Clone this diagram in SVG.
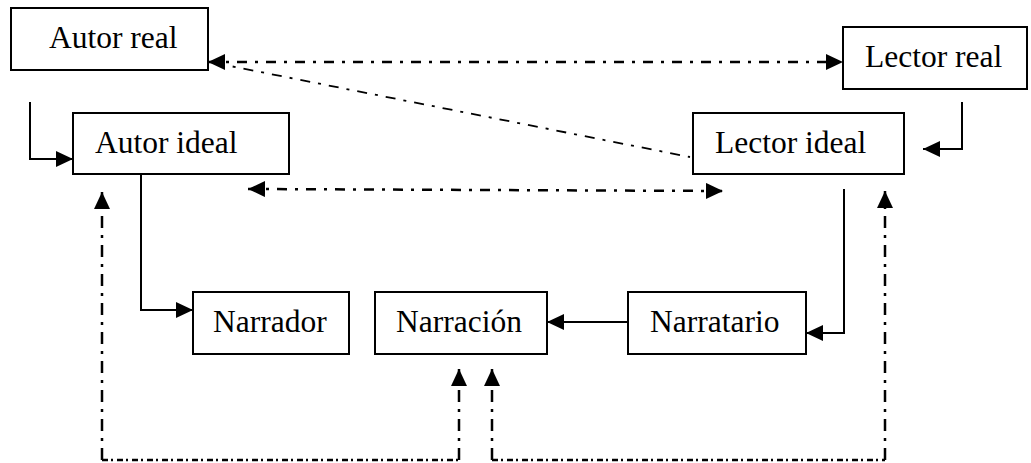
<svg xmlns="http://www.w3.org/2000/svg" width="1031" height="463" viewBox="0 0 1031 463">
<style>
.box{fill:#fff;stroke:#000;stroke-width:2}
.lbl{font-family:"Liberation Serif","Times New Roman",serif;font-size:31.5px;fill:#000}
.solid{fill:none;stroke:#000;stroke-width:2}
.dd{fill:none;stroke:#000;stroke-width:2.5;stroke-dasharray:10 8 3 8}
.dv{fill:none;stroke:#000;stroke-width:2.5;stroke-dasharray:12 7 3 7}
.db{fill:none;stroke:#000;stroke-width:2.5;stroke-dasharray:6 3 2 4}
.diag{fill:none;stroke:#000;stroke-width:1.8;stroke-dasharray:10 8 3 8}
</style>
<defs>
<marker id="ah" markerUnits="userSpaceOnUse" markerWidth="20" markerHeight="18" viewBox="0 0 20 18" refX="17" refY="8" orient="auto-start-reverse">
<path d="M0,0 L17,8 L0,16 z" fill="#000"/>
</marker>
</defs>
<rect width="1031" height="463" fill="#fff"/>
<g id="connectors">
<path class="solid" d="M30,102 V159 H73" marker-end="url(#ah)"/>
<path class="solid" d="M962,102 V149 H923" marker-end="url(#ah)"/>
<path class="solid" d="M141,174 V310 H193" marker-end="url(#ah)"/>
<path class="solid" d="M844,189 V333 H806" marker-end="url(#ah)"/>
<path class="solid" d="M628,322 H547" marker-end="url(#ah)"/>
<path class="dd" d="M208,62 H843" marker-start="url(#ah)" marker-end="url(#ah)"/>
<path class="diag" d="M215,63 L690,157"/>
<path class="dd" d="M248,189 L723,191" marker-start="url(#ah)" marker-end="url(#ah)"/>
<path class="dv" d="M102,460 V192" marker-end="url(#ah)"/>
<path class="db" d="M102,460 H459"/>
<path class="dv" d="M459,460 V369" marker-end="url(#ah)"/>
<path class="dv" d="M492,460 V369" marker-end="url(#ah)"/>
<path class="db" d="M492,460 H885"/>
<path class="dv" d="M885,460 V191" marker-end="url(#ah)"/>
</g>
<g id="autor-real"><rect class="box" x="11" y="8" width="197" height="62"/><text class="lbl" x="49" y="48">Autor real</text></g>
<g id="lector-real"><rect class="box" x="843" y="27" width="184" height="62"/><text class="lbl" x="865" y="67">Lector real</text></g>
<g id="autor-ideal"><rect class="box" x="73" y="113" width="216" height="61"/><text class="lbl" x="95" y="153">Autor ideal</text></g>
<g id="lector-ideal"><rect class="box" x="693" y="113" width="211" height="61"/><text class="lbl" x="715" y="153">Lector ideal</text></g>
<g id="narrador"><rect class="box" x="193" y="292" width="156" height="62"/><text class="lbl" x="213" y="332">Narrador</text></g>
<g id="narracion"><rect class="box" x="375" y="292" width="172" height="62"/><text class="lbl" x="396" y="332">Narración</text></g>
<g id="narratario"><rect class="box" x="628" y="292" width="178" height="62"/><text class="lbl" x="650" y="332">Narratario</text></g>
</svg>
